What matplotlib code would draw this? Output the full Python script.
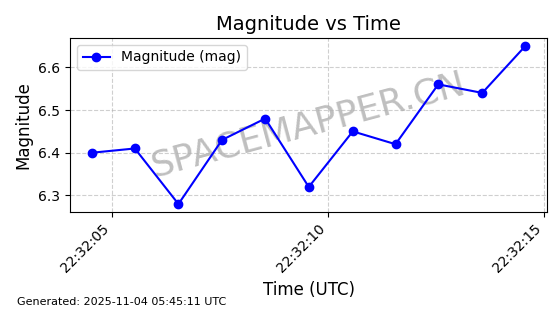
import matplotlib
matplotlib.use("Agg")
import matplotlib.pyplot as plt
import matplotlib.dates as mdates
import pandas as pd

times = ["22:32:04.53", "22:32:05.53", "22:32:06.54", "22:32:07.55", "22:32:08.55",
         "22:32:09.56", "22:32:10.58", "22:32:11.57", "22:32:12.56", "22:32:13.58",
         "22:32:14.58"]
magnitudes = [6.40, 6.41, 6.28, 6.43, 6.48, 6.32, 6.45, 6.42, 6.56, 6.54, 6.65]

t = pd.to_datetime(["2025-11-03 " + s for s in times])

fig = plt.figure(figsize=(5.6, 3.14), dpi=100)
ax = fig.add_subplot(111)
fig.subplots_adjust(left=0.125, right=0.977, top=0.879, bottom=0.325)

ax.plot(t, magnitudes, marker="o", color="blue", linestyle="-", label="Magnitude (mag)", zorder=3)
ax.set_title("Magnitude vs Time", fontsize=14)
ax.set_xlabel("Time (UTC)", fontsize=12)
ax.set_ylabel("Magnitude", fontsize=12)
ax.grid(True, linestyle="--", alpha=0.6)
ax.legend(loc="upper left")

ax.xaxis.set_major_locator(mdates.SecondLocator(bysecond=range(0, 60, 5)))
ax.xaxis.set_major_formatter(mdates.DateFormatter("%H:%M:%S"))
plt.setp(ax.get_xticklabels(), rotation=45, ha="right")

ax.text(0.5, 0.5, "SPACEMAPPER.CN", transform=ax.transAxes, fontsize=26,
        color="gray", alpha=0.5, ha="center", va="center", rotation=15, zorder=1)

fig.text(0.03, 0.03, "Generated: 2025-11-04 05:45:11 UTC", fontsize=8)

fig.savefig("out.png", dpi=100)
